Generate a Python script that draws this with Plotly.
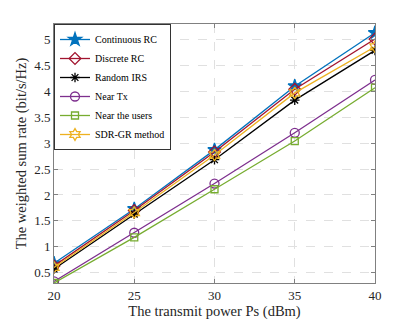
import plotly.graph_objects as go

# potencia de transmisión (dBm)
ps = [20, 25, 30, 35, 40]

continuous_rc = [0.68, 1.73, 2.87, 4.10, 5.13]
discrete_rc = [0.63, 1.70, 2.83, 4.04, 5.01]
random_irs = [0.57, 1.63, 2.68, 3.83, 4.79]
near_tx = [0.33, 1.27, 2.22, 3.20, 4.22]
near_users = [0.30, 1.18, 2.11, 3.04, 4.07]
sdr_gr = [0.60, 1.66, 2.77, 3.97, 4.86]

series = [
    ("Continuous RC", continuous_rc, "#0072BD", "star", 10),
    ("Discrete RC", discrete_rc, "#A2142F", "diamond-open", 9),
    ("Random IRS", random_irs, "#000000", "asterisk-open", 8),
    ("Near Tx", near_tx, "#7E2F8E", "circle-open", 9),
    ("Near the users", near_users, "#77AC30", "square-open", 7),
    ("SDR-GR method", sdr_gr, "#EDB120", "hexagram-open", 9),
]

SERIF = "Liberation Serif, Times New Roman, serif"

fig = go.Figure()
for name, y, color, symbol, size in series:
    fig.add_trace(go.Scatter(
        x=ps, y=y, name=name, mode="lines+markers",
        line=dict(color=color, width=1.3),
        marker=dict(symbol=symbol, size=size, color=color,
                    line=dict(color=color, width=1.3)),
    ))

axis_style = dict(
    showline=True, linecolor="#808080", linewidth=1, mirror="ticks",
    ticks="inside", ticklen=4, tickcolor="#808080",
    showgrid=True, gridcolor="#e0e0e0", griddash="dash", gridwidth=1,
    zeroline=False, tickfont=dict(size=13, color="#262626", family=SERIF),
)

# el body de la página añade 8px de margen
fig.update_layout(
    width=407, height=319,
    margin=dict(l=46, r=40, t=16, b=40),
    paper_bgcolor="white", plot_bgcolor="white",
    font=dict(family=SERIF, color="#262626"),
    xaxis=dict(range=[20, 40], tickvals=[20, 25, 30, 35, 40],
               title=dict(text="The transmit power Ps (dBm)",
                          font=dict(size=14.5, family=SERIF), standoff=2),
               **axis_style),
    yaxis=dict(range=[0.3, 5.3], tickvals=[0.5, 1, 1.5, 2, 2.5, 3, 3.5, 4, 4.5, 5],
               title=dict(text="The weighted sum rate (bit/s/Hz)",
                          font=dict(size=14.5, family=SERIF), standoff=4),
               **axis_style),
    legend=dict(x=0.0, y=1.0, xanchor="left", yanchor="top",
                bgcolor="white", bordercolor="#333333", borderwidth=1,
                font=dict(size=10, family=SERIF, color="#000000"),
                tracegroupgap=0, itemwidth=30),
    showlegend=True,
)

fig.write_html("out.html")
